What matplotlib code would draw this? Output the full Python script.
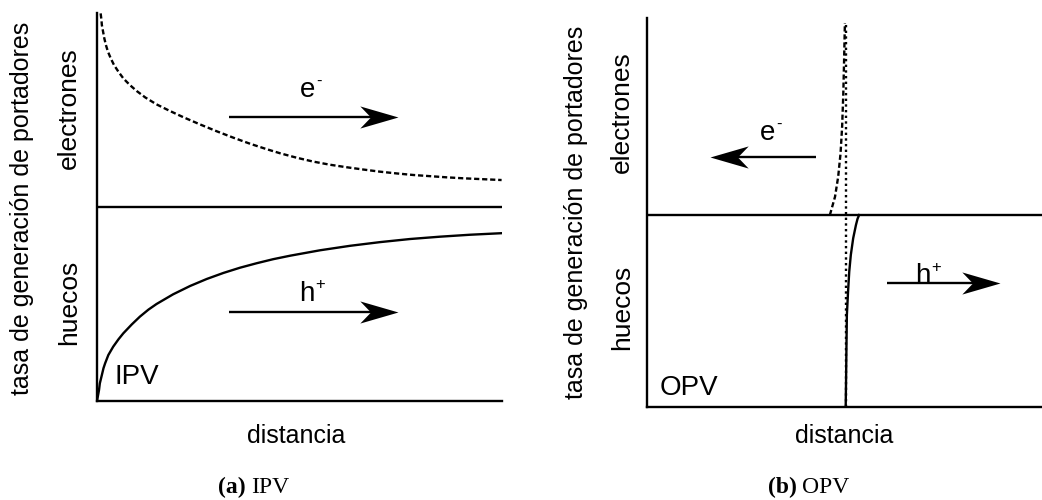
import matplotlib
matplotlib.use("Agg")
import matplotlib.pyplot as plt
from matplotlib.path import Path

plt.rcParams['font.family'] = ['Liberation Sans', 'DejaVu Sans']

# (a) IPV : generation rate vs distance
ipv_e_x = [0.009, 0.011, 0.012, 0.015, 0.018, 0.022, 0.027, 0.034, 0.042, 0.053,
           0.065, 0.081, 0.098, 0.119, 0.147, 0.180, 0.213, 0.254, 0.296, 0.337,
           0.378, 0.419, 0.452, 0.493, 0.534, 0.575, 0.616, 0.658, 0.699, 0.740,
           0.781, 0.822, 0.863, 0.904, 0.946, 0.999]
ipv_e_y = [0.998, 0.964, 0.938, 0.904, 0.870, 0.835, 0.801, 0.766, 0.732, 0.697,
           0.663, 0.629, 0.598, 0.565, 0.529, 0.495, 0.463, 0.426, 0.390, 0.357,
           0.326, 0.298, 0.277, 0.254, 0.234, 0.218, 0.205, 0.193, 0.182, 0.173,
           0.165, 0.159, 0.153, 0.148, 0.144, 0.139]
ipv_h_x = [0.0, 0.005, 0.007, 0.012, 0.016, 0.020, 0.028, 0.040, 0.053, 0.065,
           0.086, 0.106, 0.127, 0.147, 0.188, 0.230, 0.271, 0.312, 0.353, 0.394,
           0.435, 0.477, 0.551, 0.625, 0.699, 0.773, 0.847, 0.921, 0.999]
ipv_h_y = [-1.0, -0.943, -0.909, -0.866, -0.831, -0.806, -0.763, -0.720, -0.682, -0.651,
           -0.605, -0.565, -0.529, -0.500, -0.450, -0.407, -0.371, -0.340, -0.313, -0.290,
           -0.269, -0.251, -0.223, -0.200, -0.181, -0.165, -0.153, -0.143, -0.135]

# (b) OPV
opv_e_x = [0.463, 0.476, 0.484, 0.490, 0.494, 0.497, 0.499, 0.501]
opv_e_y = [0.0, 0.095, 0.199, 0.321, 0.460, 0.634, 0.807, 1.0]
opv_h_x = [0.537, 0.533, 0.529, 0.522, 0.516, 0.512, 0.509, 0.506, 0.505, 0.504, 0.503]
opv_h_y = [0.0, -0.02, -0.052, -0.121, -0.208, -0.295, -0.399, -0.521, -0.677, -0.851, -1.0]
interface_x = 0.503

W, H = 1042, 500
LW = 1.7
fig = plt.figure(figsize=(W / 100, H / 100), dpi=100)

def frac(x0, y_top, x1, y_bot):
    return [x0 / W, 1 - y_bot / H, (x1 - x0) / W, (y_bot - y_top) / H]

axa = fig.add_axes(frac(97, 13, 502, 401))
axb = fig.add_axes(frac(647, 18, 1042, 407))

codes = [Path.MOVETO, Path.LINETO, Path.LINETO, Path.LINETO, Path.CLOSEPOLY]
head_r = Path([(0, 0), (-1, 0.29), (-0.72, 0), (-1, -0.29), (0, 0)], codes)
head_l = Path([(0, 0), (1, 0.29), (0.72, 0), (1, -0.29), (0, 0)], codes)

def arrow(ax, x0, x1, y):
    d = 1 if x1 > x0 else -1
    p = ax.transData.transform([(x1, y)])[0]
    back = ax.transData.inverted().transform([(p[0] - d * 22, p[1])])[0][0]
    ax.plot([x0, back], [y, y], color='k', lw=LW, solid_capstyle='butt')
    ax.plot([x1], [y], marker=head_r if d > 0 else head_l, ms=55, color='k', mew=0)

def carrier(ax, x, y, letter, sup):
    ax.text(x, y, letter, fontsize=20, ha='left', va='baseline')
    ax.annotate(sup, xy=(x, y), xytext=(11.5, 8), textcoords='offset points',
                fontsize=12, ha='left', va='baseline')

for ax in (axa, axb):
    ax.set_xlim(0, 1)
    for s in ('top', 'right'):
        ax.spines[s].set_visible(False)
    for s in ('left', 'bottom'):
        ax.spines[s].set_linewidth(LW)
    ax.set_xticks([])
    ax.set_yticks([])
    ax.axhline(0, color='k', lw=LW)

axa.set_ylim(-1, 1)
axb.set_ylim(-1, 1.026)

dash = (0, (2.2, 1.2))
axa.plot(ipv_e_x, ipv_e_y, color='k', lw=LW, ls=dash)
axa.plot(ipv_h_x, ipv_h_y, color='k', lw=LW)
arrow(axa, 0.326, 0.743, 0.464)
arrow(axa, 0.326, 0.743, -0.539)
carrier(axa, 0.501, 0.567, 'e', '-')
carrier(axa, 0.499, -0.482, 'h', '+')
axa.text(0.044, -0.912, 'IPV', fontsize=20, ha='left', va='baseline')

axb.plot(opv_e_x, opv_e_y, color='k', lw=LW, ls=dash)
axb.plot(opv_h_x, opv_h_y, color='k', lw=LW)
axb.plot([interface_x, interface_x], [-1, 1], color='k', lw=LW, ls=(0, (1, 1.4)))
arrow(axb, 0.428, 0.159, 0.302)
arrow(axb, 0.607, 0.894, -0.352)
carrier(axb, 0.287, 0.391, 'e', '-')
carrier(axb, 0.680, -0.356, 'h', '+')
axb.text(0.033, -0.9375, 'OPV', fontsize=20, ha='left', va='baseline')

def ftext(x, y, s, **kw):
    fig.text(x / W, 1 - y / H, s, **kw)

for xo, xi, ye, yh in ((22, 69, 108, 302), (576, 622, 112, 307)):
    ftext(xo, (ye + yh) / 2 + 3, 'tasa de generación de portadores', fontsize=18,
          rotation=90, ha='center', va='center')
    ftext(xi, ye, 'electrones', fontsize=19, rotation=90, ha='center', va='center')
    ftext(xi, yh, 'huecos', fontsize=19, rotation=90, ha='center', va='center')

ftext(296, 443, 'distancia', fontsize=18, ha='center', va='baseline')
ftext(844, 443, 'distancia', fontsize=18, ha='center', va='baseline')

serif = ['Liberation Serif', 'DejaVu Serif']
ftext(246, 493, '(a)', fontsize=17, family=serif, weight='bold', ha='right', va='baseline')
ftext(251, 493, 'IPV', fontsize=17, family=serif, ha='left', va='baseline')
ftext(797, 493, '(b)', fontsize=17, family=serif, weight='bold', ha='right', va='baseline')
ftext(802, 493, 'OPV', fontsize=17, family=serif, ha='left', va='baseline')

fig.savefig('out.png', dpi=100)
